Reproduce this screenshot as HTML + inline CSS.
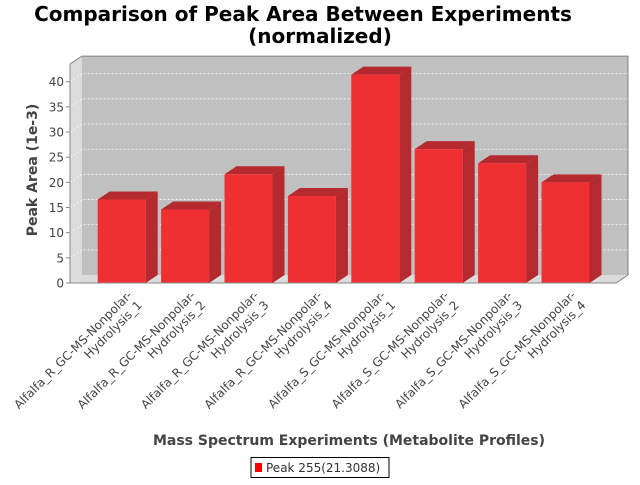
<!DOCTYPE html>
<html><head><meta charset="utf-8"><style>
body{margin:0;background:#fff;}
svg text{font-family:"DejaVu Sans","Liberation Sans",sans-serif;}
</style></head><body>
<svg id="chart" width="640" height="480" xmlns="http://www.w3.org/2000/svg">
<text x="303" y="21" text-anchor="middle" font-size="20" font-weight="bold" fill="#000">Comparison of Peak Area Between Experiments</text>
<text x="320" y="43" text-anchor="middle" font-size="20" font-weight="bold" fill="#000">(normalized)</text>
<g id="plot"></g>
<text transform="translate(37,170) rotate(-90)" text-anchor="middle" font-size="14" font-weight="bold" fill="#444">Peak Area (1e-3)</text>
<text x="349" y="445" text-anchor="middle" font-size="14" font-weight="bold" fill="#444">Mass Spectrum Experiments (Metabolite Profiles)</text>
<g>
<rect x="251" y="457.5" width="138" height="20" fill="#fff" stroke="#000"/>
<rect x="255" y="463" width="7" height="9" fill="#f00"/>
<text x="266" y="472" font-size="12" fill="#333">Peak 255(21.3088)</text>
</g>
</svg>
<script>
const categories=["Alfalfa_R_GC-MS-Nonpolar-|Hydrolysis_1","Alfalfa_R_GC-MS-Nonpolar-|Hydrolysis_2","Alfalfa_R_GC-MS-Nonpolar-|Hydrolysis_3","Alfalfa_R_GC-MS-Nonpolar-|Hydrolysis_4","Alfalfa_S_GC-MS-Nonpolar-|Hydrolysis_1","Alfalfa_S_GC-MS-Nonpolar-|Hydrolysis_2","Alfalfa_S_GC-MS-Nonpolar-|Hydrolysis_3","Alfalfa_S_GC-MS-Nonpolar-|Hydrolysis_4"];
const values=[16.6,14.6,21.6,17.3,41.4,26.6,23.8,20.0];
const yTicks=[0,5,10,15,20,25,30,35,40];
const NS="http://www.w3.org/2000/svg";
const X0=70,X1=616,Y0=283,YMAX=43.5,DX=12,DY=8,S=(283-81.7)/40;
const yS=v=>Y0-v*S;
const step=63.4,bw=48;
const xC=i=>70+27.7+bw/2+i*step;
const plot=document.getElementById('plot');
function mk(t,a,p){const e=document.createElementNS(NS,t);for(const k in a)e.setAttribute(k,a[k]);(p||plot).appendChild(e);return e;}
const ytop=yS(YMAX);
let e;
e=mk('polygon',{points:`${X0+DX},${ytop-DY} ${X1+DX},${ytop-DY} ${X1+DX},${Y0-DY} ${X0+DX},${Y0-DY}`,fill:'#c0c0c0'});

e=mk('polygon',{points:`${X0},${ytop} ${X0+DX},${ytop-DY} ${X0+DX},${Y0-DY} ${X0},${Y0}`,fill:'#dcdcdc'});

e=mk('polygon',{points:`${X0},${Y0} ${X0+DX},${Y0-DY} ${X1+DX},${Y0-DY} ${X1},${Y0}`,fill:'#dcdcdc'});

e=mk('polyline',{points:`${X0},${ytop} ${X0+DX},${ytop-DY} ${X1+DX},${ytop-DY} ${X1+DX},${Y0-DY} ${X1},${Y0}`,fill:'none',stroke:'#808080'});

yTicks.forEach(v=>{
  const y=yS(v);
  if(v>0){
    e=mk('polyline',{points:`${X0},${y} ${X0+DX},${y-DY} ${X1+DX},${y-DY}`,fill:'none',stroke:'#fff','stroke-width':0.7,'stroke-dasharray':'2,2'});
    
  }
  e=mk('line',{x1:X0-4,x2:X0,y1:y,y2:y,stroke:'#888'});
  
  e=mk('text',{x:X0-6,y:y+4.5,'text-anchor':'end','font-size':12,fill:'#444'});
  e.textContent=v;
  
});
values.forEach((v,i)=>{
  const x0=xC(i)-bw/2,x1=xC(i)+bw/2,yt=yS(v);
  const g=mk('g',{});
  
  e=mk('polygon',{points:`${x1},${yt} ${x1+DX},${yt-DY} ${x1+DX},${Y0-DY} ${x1},${Y0}`,fill:'#b42a2e'},g);
  
  e=mk('polygon',{points:`${x0},${yt} ${x0+DX},${yt-DY} ${x1+DX},${yt-DY} ${x1},${yt}`,fill:'#b42a2e'},g);
  
  e=mk('rect',{x:x0,y:yt,width:bw,height:Y0-yt,fill:'#ee3033'},g);
  
  const parts=categories[i].split('|');
  const t=mk('text',{transform:`translate(${xC(i)+11},${296}) rotate(-45)`,'text-anchor':'end','font-size':12,fill:'#444'});
  
  parts.forEach((p,j)=>{const s=mk('tspan',{x:0,y:j*14},t);s.textContent=p;});
});
e=mk('line',{x1:X0,x2:X0,y1:ytop,y2:Y0,stroke:'#888'});

e=mk('line',{x1:X0,x2:X1,y1:Y0,y2:Y0,stroke:'#888'});

</script>
</body></html>
